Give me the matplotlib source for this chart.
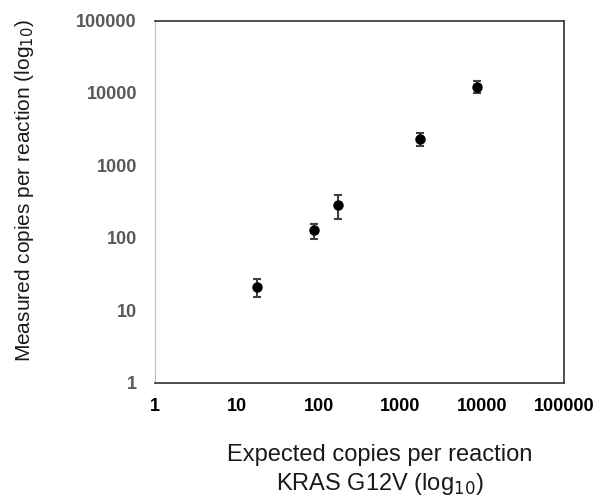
import matplotlib
matplotlib.use("Agg")
import matplotlib.pyplot as plt
import numpy as np

plt.rcParams['font.family'] = ['Liberation Sans', 'DejaVu Sans']

# expected vs measured copies per reaction (KRAS G12V)
expected = [17.5, 87.5, 175, 1750, 8750]
measured = [20.7, 126, 285, 2320, 12250]
err_low = [15.1, 96.6, 182, 1876, 10000]
err_high = [26.5, 155, 383, 2775, 14500]
ticks = [1, 10, 100, 1000, 10000, 100000]
tick_labels = ["1", "10", "100", "1000", "10000", "100000"]

fig = plt.figure(figsize=(5.95, 4.96), dpi=100)
ax = fig.add_axes([155/595, 1 - 382.5/496, 409/595, 362/496])

measured = np.array(measured)
yerr = [measured - np.array(err_low), np.array(err_high) - measured]
ax.errorbar(expected, measured, yerr=yerr, fmt='o', color='black', markersize=6.5,
            ecolor='#404040', elinewidth=1.5, capsize=3, capthick=1.5)

ax.set_xscale('log')
ax.set_yscale('log')
ax.set_xlim(1, 100000)
ax.set_ylim(1, 100000)
ax.set_xticks(ticks)
ax.set_xticklabels(tick_labels)
ax.set_yticks(ticks)
ax.set_yticklabels(tick_labels)
ax.minorticks_off()
ax.tick_params(length=0, labelsize=13)
ax.tick_params(axis='x', pad=11, labelcolor='black')
ax.tick_params(axis='y', pad=13, labelcolor='#595959')
for lab in ax.get_xticklabels() + ax.get_yticklabels():
    lab.set_fontweight('bold')

ax.spines['left'].set_color('#bfbfbf')
for s in ['top', 'right', 'bottom']:
    ax.spines[s].set_color('#404040')
    ax.spines[s].set_linewidth(1.3)

fig.text(25/595, 1 - 191/496, r"Measured copies per reaction (log$_{10}$)", rotation=90,
         ha='center', va='center', fontsize=15, color='#1a1a1a')
fig.text(380/595, 1 - 455/496, "Expected copies per reaction", ha='center', va='center',
         fontsize=17, color='#1a1a1a')
fig.text(380/595, 1 - 484/496, r"KRAS G12V (log$_{10}$)", ha='center', va='center',
         fontsize=17, color='#1a1a1a')

fig.savefig("out.png", dpi=100)
